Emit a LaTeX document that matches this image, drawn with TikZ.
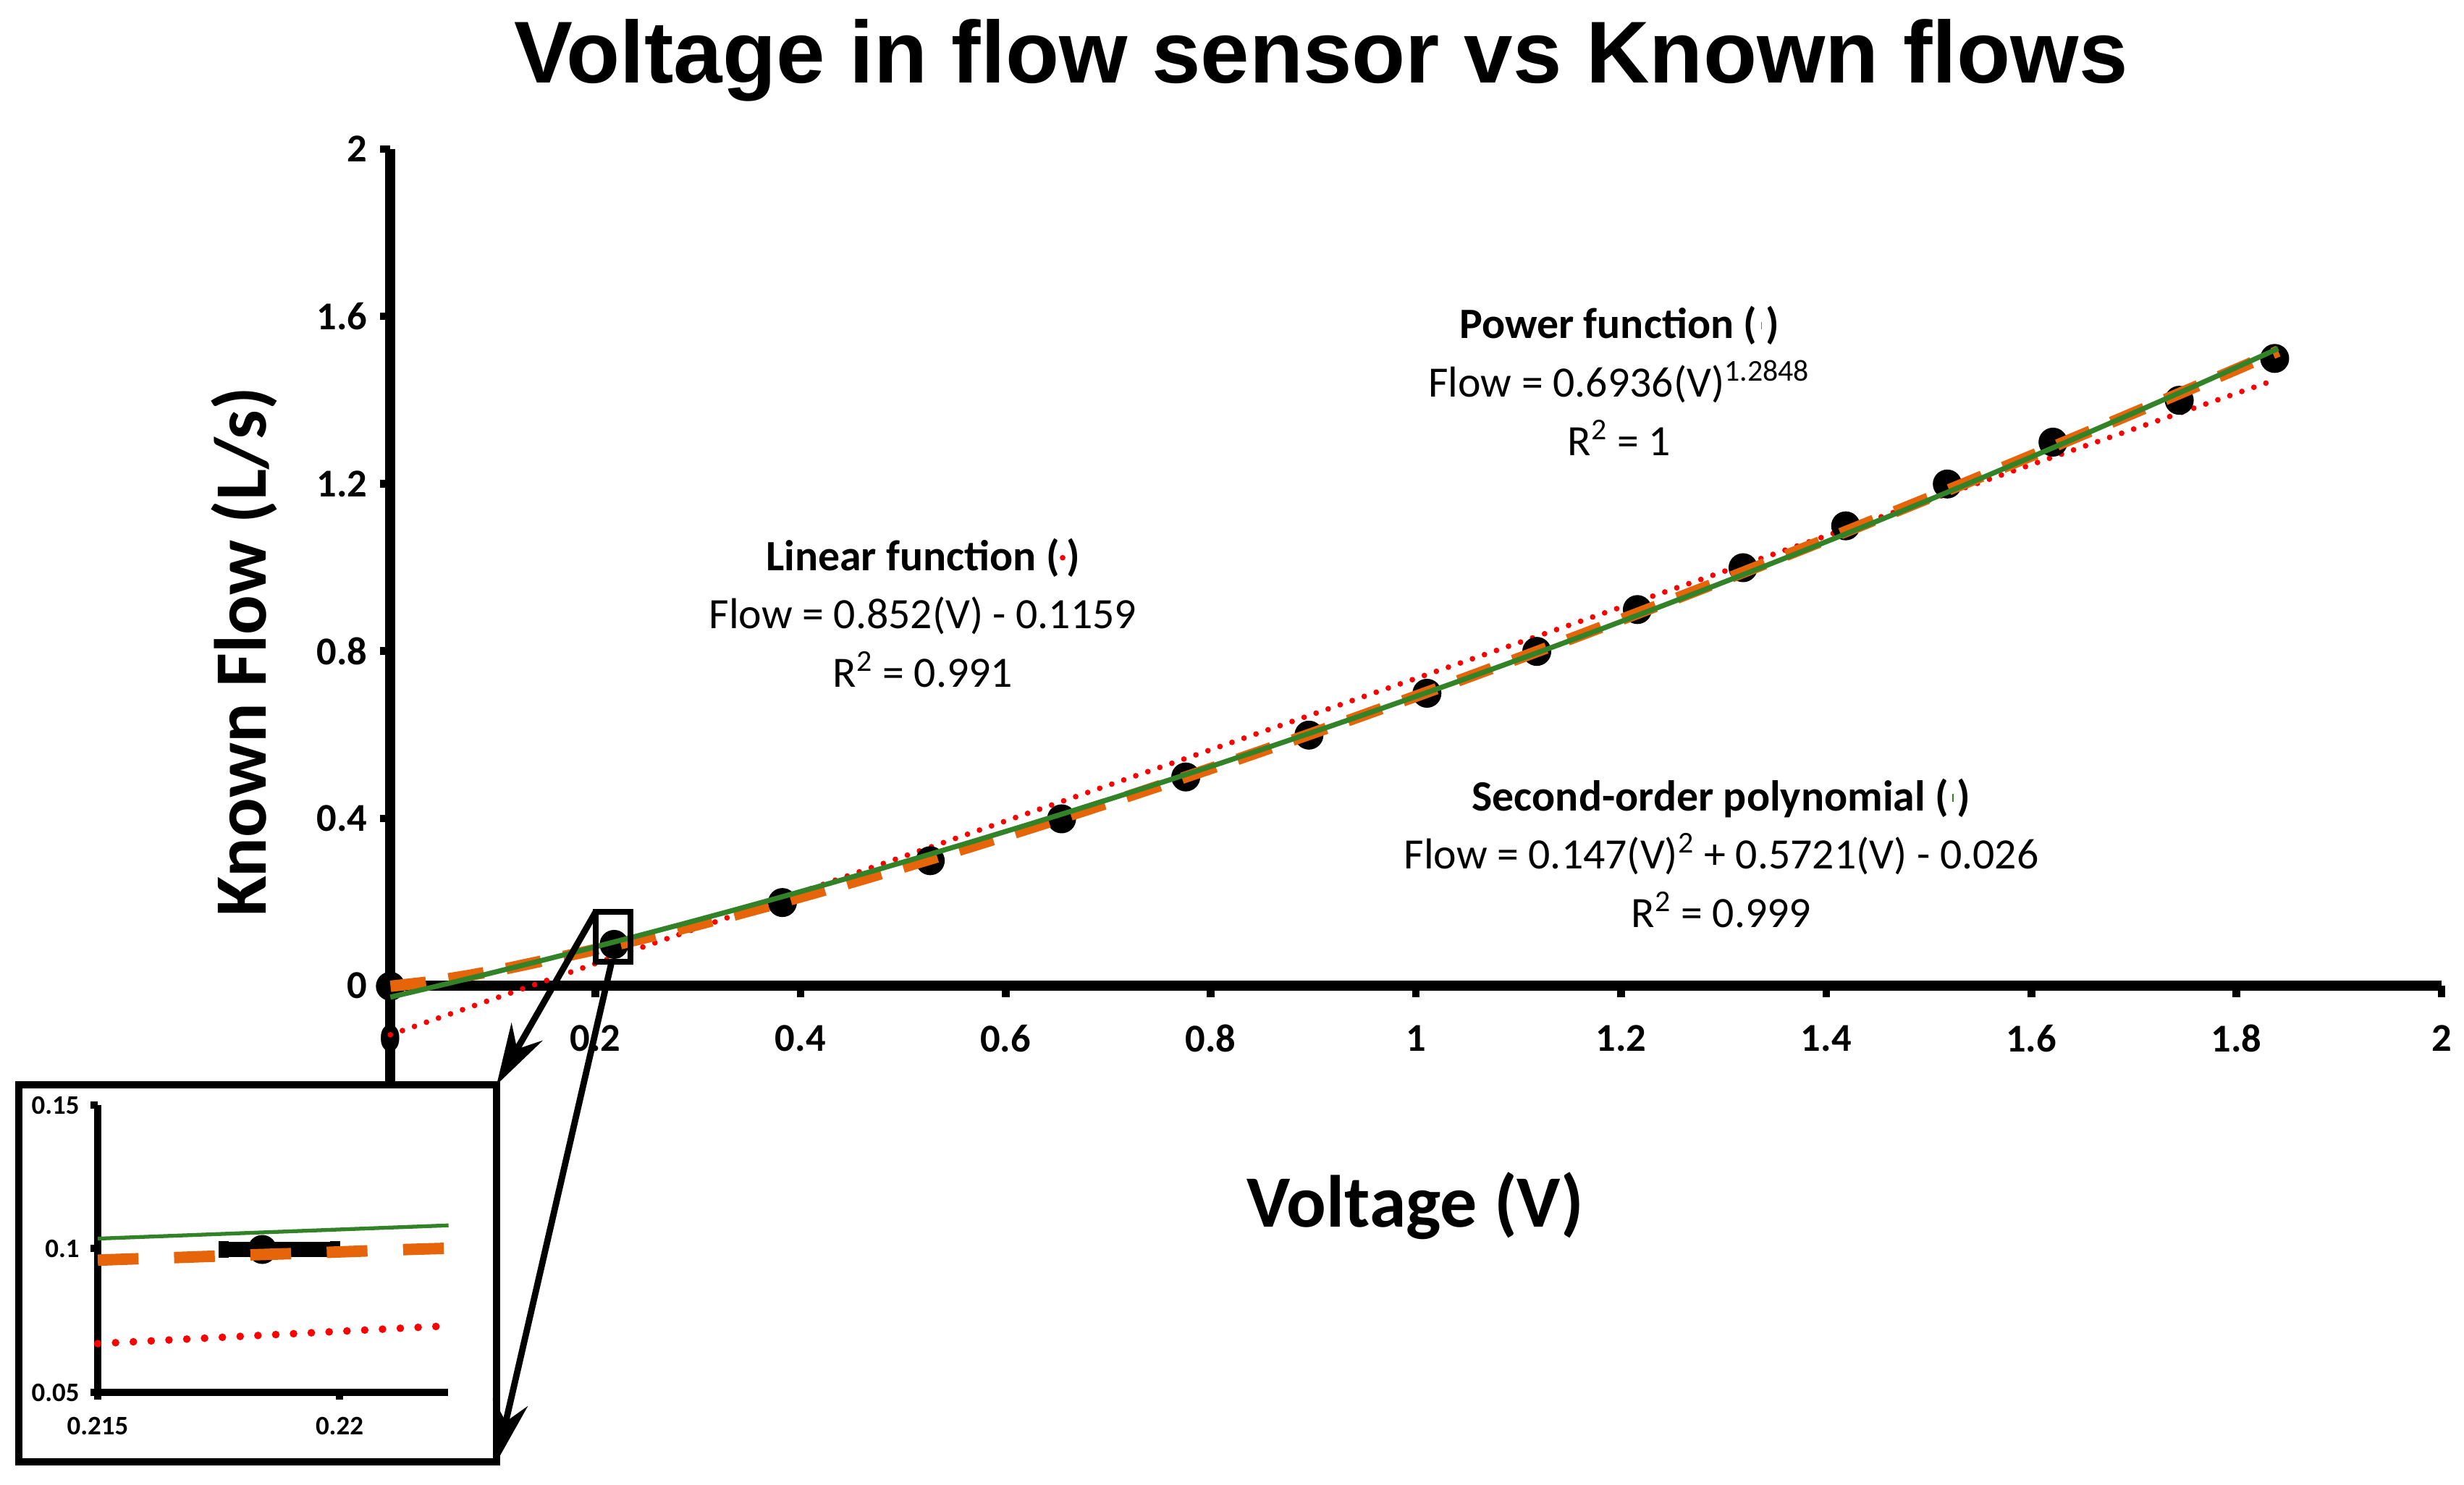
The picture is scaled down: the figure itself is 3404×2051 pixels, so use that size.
\documentclass[tikz,border=0pt]{standalone}
\usepackage{fontspec}
\setmainfont{Carlito}
\newfontfamily\titlefont{Liberation Sans}
\usetikzlibrary{arrows.meta}
\definecolor{orng}{RGB}{230,100,10}
\definecolor{grn}{RGB}{50,130,40}
\begin{document}
\begin{tikzpicture}[x=0.01cm,y=-0.01cm,
  ax/.style={line width=4pt},
  tk/.style={line width=3pt},
  linfit/.style={red,dotted,line width=2.2pt,line cap=round,dash pattern=on 0pt off 5pt},
  powfit/.style={orng,line width=4.5pt,dash pattern=on 14pt off 9pt},
  polfit/.style={grn,line width=2pt},
  tlab/.style={font=\fontsize{15.5}{18}\selectfont\bfseries},
  ilab/.style={font=\fontsize{10.5}{12}\selectfont\bfseries},
  ann/.style={font=\fontsize{17}{21}\selectfont,align=center},
  pt/.style={fill=black}]
\useasboundingbox (0,0) rectangle (3404,2051);
\node[font=\titlefont\fontsize{34.5}{40}\selectfont\bfseries] (title) at (1825,83) {Voltage in flow sensor vs Known flows};
% axes
\draw[ax] (539,206) -- (539,1499);
\draw[ax] (539,1362) -- (3373,1362);
\foreach \v/\l in {0/0,0.4/0.4,0.8/0.8,1.2/1.2,1.6/1.6,2/2}{
  \draw[tk] (525,{1362-578*\v}) -- (539,{1362-578*\v});
  \node[tlab,anchor=east] (yl\l) at (520,{1362-578*\v}) {\l};}
\foreach \v/\l in {0.2/0.2,0.4/0.4,0.6/0.6,0.8/0.8,1/1,1.2/1.2,1.4/1.4,1.6/1.6,1.8/1.8,2/2}{
  \draw[tk] ({539+1417*\v},1362) -- ({539+1417*\v},1378);
  \node[tlab] (xl\l) at ({539+1417*\v},1435) {\l};}
\node[tlab] (xl0) at (539,1435) {0};
\node[font=\fontsize{29}{34}\selectfont\bfseries,rotate=90] (ylab) at (337,901) {Known Flow (L/s)};
\node[font=\fontsize{29}{34}\selectfont\bfseries] (xlab) at (1955,1666) {Voltage (V)};
% data scope
\begin{scope}[shift={(5.39cm,-13.62cm)},x=14.17cm,y=5.78cm]
  \draw[linfit] plot[domain=0:1.836,samples=2] (\x,{0.852*\x-0.1159});
  \foreach \v/\f in {0/0,0.218/0.1,0.382/0.2,0.526/0.3,0.654/0.4,0.775/0.5,0.895/0.6,1.010/0.7,1.117/0.8,1.215/0.9,1.318/1.0,1.418/1.1,1.517/1.2,1.620/1.3,1.743/1.4,1.836/1.5}
    \fill[pt] (\v,\f) circle[radius=0.2cm];
  \draw[powfit] plot[domain=0.0001:1.84,samples=50] (\x,{0.6936*pow(\x,1.2848)});
  \draw[polfit] plot[domain=0:1.84,samples=40] (\x,{0.147*\x*\x+0.5721*\x-0.026});
\end{scope}
% zoom box and inset
\draw[line width=2.5pt] (823,1260) rectangle (871,1329);
\coordinate (zb1) at (823,1260);
\coordinate (zb2) at (845,1329);
\draw[line width=3pt,fill=white] (26,1499) rectangle (686,2020);
\coordinate (in1) at (686,1499);
\coordinate (in2) at (686,2020);
\draw[line width=2.5pt,-{Stealth[length=24pt,width=14pt]}] (zb1) -- (in1);
\draw[line width=2.5pt,-{Stealth[length=24pt,width=14pt]}] (zb2) -- (in2);
\draw[line width=3pt] (135,1527) -- (135,1924) -- (619,1924);
\foreach \yy/\l in {1527/0.15,1725/0.1,1924/0.05}{
  \draw[line width=3pt] (125,\yy) -- (135,\yy);
  \node[ilab,anchor=east] at (122,\yy) {\l};}
\foreach \xx/\l in {135/0.215,469/0.22}{
  \draw[line width=3pt] (\xx,1924) -- (\xx,1934);
  \node[ilab] at (\xx,1970) {\l};}
% inset data: local x = (V-0.215)*1000, local y = (F-0.05)*100
\begin{scope}[shift={(1.35cm,-19.24cm)},x=0.668cm,y=0.397cm]
  \draw[linfit,dash pattern=on 0pt off 7pt,line width=3pt] plot[domain=0:7.25,samples=2] (\x,{100*(0.852*(0.215+\x/1000)-0.1159-0.05)});
  \draw[polfit,line width=1.5pt] plot[domain=0:7.25,samples=2] (\x,{100*(0.147*(0.215+\x/1000)^2+0.5721*(0.215+\x/1000)-0.026-0.05)});
  \draw[line width=6pt] (2.6,5) -- (4.9,5);
  \draw[line width=4pt] (2.6,4.7) -- (2.6,5.3) (4.9,4.7) -- (4.9,5.3);
  \fill[pt] (3.4,5) circle[radius=0.2cm];
  \draw[powfit,dash pattern=on 16pt off 14pt] plot[domain=0:7.25,samples=10] (\x,{100*(0.6936*pow(0.215+\x/1000,1.2848)-0.05)});
\end{scope}
% annotations
\node[ann] (pw) at (2237,526) {\textbf{Power function (\tikz[baseline=-0.6ex]\draw[orng,line width=3pt,dash pattern=on 10pt off 5pt] (0,0)--(1.25,0);)}\\[2pt]Flow = 0.6936(V)\textsuperscript{1.2848}\\[2pt]R\textsuperscript{2} = 1};
\node[ann] (ln) at (1275,847) {\textbf{Linear function (\tikz[baseline=-0.6ex]\draw[red,line width=2.2pt,line cap=round,dash pattern=on 0pt off 5pt] (0,0)--(1.25,0);)}\\[2pt]Flow = 0.852(V) - 0.1159\\[2pt]R\textsuperscript{2} = 0.991};
\node[ann] (pl) at (2378,1179) {\textbf{Second-order polynomial (\tikz[baseline=-0.6ex]\draw[grn,line width=3pt] (0,0)--(1.25,0);)}\\[2pt]Flow = 0.147(V)\textsuperscript{2} + 0.5721(V) - 0.026\\[2pt]R\textsuperscript{2} = 0.999};
\end{tikzpicture}
\end{document}
